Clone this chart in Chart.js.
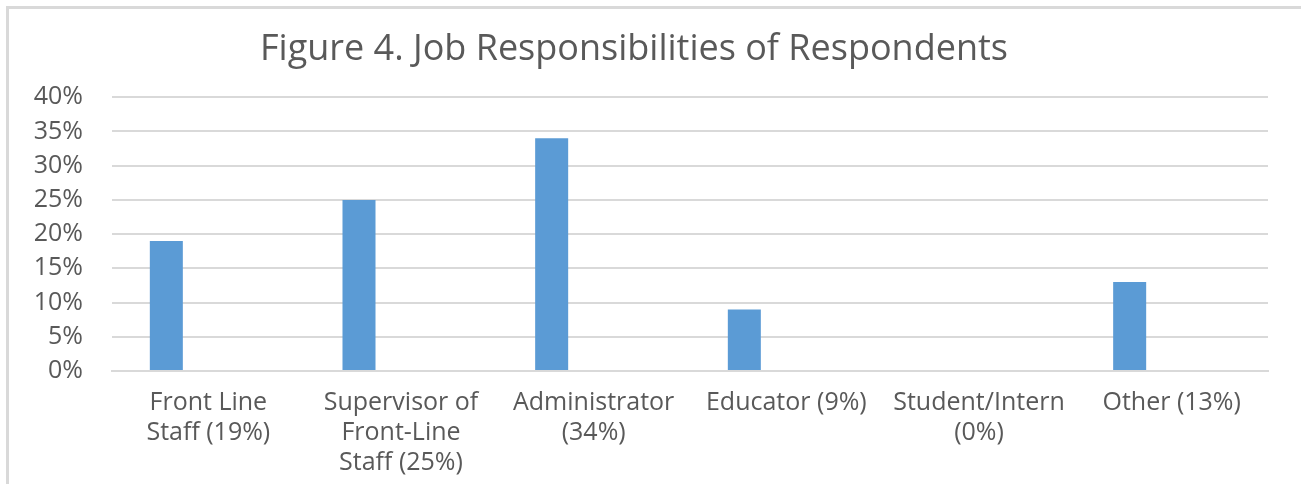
<!DOCTYPE html>
<html>
<head>
<meta charset="utf-8">
<script src="https://cdn.jsdelivr.net/npm/chart.js@4/dist/chart.umd.min.js"></script>
<style>
  html, body { margin: 0; padding: 0; background: #fff; overflow: hidden; }
  #wrap { position: relative; width: 1301px; height: 484px; }
  #frame {
    position: absolute; left: 6px; top: 6px; width: 1400px; height: 600px;
    border: 3px solid #d9d9d9; box-sizing: border-box; pointer-events: none;
  }
</style>
</head>
<body>
<div id="wrap">
  <canvas id="chart" width="1301" height="484"></canvas>
  <div id="frame"></div>
</div>
<script>
// ===== DATA =====
const categories = [
  ["Front Line", "Staff (19%)"],
  ["Supervisor of", "Front-Line", "Staff (25%)"],
  ["Administrator", "(34%)"],
  "Educator (9%)",
  ["Student/Intern", "(0%)"],
  "Other (13%)"
];
const responsibilityPct = [19, 25, 34, 9, 0, 13];
// empty second series (keeps the bars offset left, like the original sheet)
const blankSeries = [null, null, null, null, null, null];
const yTicks = [0, 5, 10, 15, 20, 25, 30, 35, 40];

const GRAY = "#595959";
const FONT = "'Open Sans', 'Noto Sans', sans-serif";

const chart = new Chart(document.getElementById("chart"), {
  type: "bar",
  data: {
    labels: categories,
    datasets: [
      {
        label: "Respondents",
        data: responsibilityPct,
        backgroundColor: "#5b9bd5",
        categoryPercentage: 0.872,
        barPercentage: 0.393,
      },
      {
        label: "Series 2",
        data: blankSeries,
        backgroundColor: "#ed7d31",
        categoryPercentage: 0.872,
        barPercentage: 0.393,
      },
    ],
  },
  options: {
    responsive: false,
    animation: false,
    layout: { padding: { left: 0, right: 33, top: 0, bottom: 0 } },
    plugins: {
      legend: { display: false },
      tooltip: { enabled: false },
      title: {
        display: true,
        text: "Figure 4. Job Responsibilities of Respondents",
        color: GRAY,
        font: { family: FONT, size: 36, weight: "normal", lineHeight: 1.2 },
        padding: { top: 28, bottom: 26 },
      },
    },
    scales: {
      y: {
        min: 0,
        max: 40,
        afterBuildTicks: (s) => { s.ticks = yTicks.map((v) => ({ value: v })); },
        afterFit: (s) => { s.width = 112; },
        ticks: {
          color: GRAY,
          padding: 29,
          font: { family: FONT, size: 25 },
          callback: (v) => v + "%",
        },
        grid: { color: "#d9d9d9", lineWidth: 2, drawTicks: false },
        border: { display: false },
      },
      x: {
        afterFit: (s) => { s.height = 113; },
        ticks: {
          color: GRAY,
          padding: 17,
          maxRotation: 0,
          autoSkip: false,
          font: { family: FONT, size: 25, lineHeight: 1.2 },
        },
        grid: { display: false, drawTicks: false },
        border: { color: "#d9d9d9", width: 2 },
      },
    },
  },
});
</script>
</body>
</html>
